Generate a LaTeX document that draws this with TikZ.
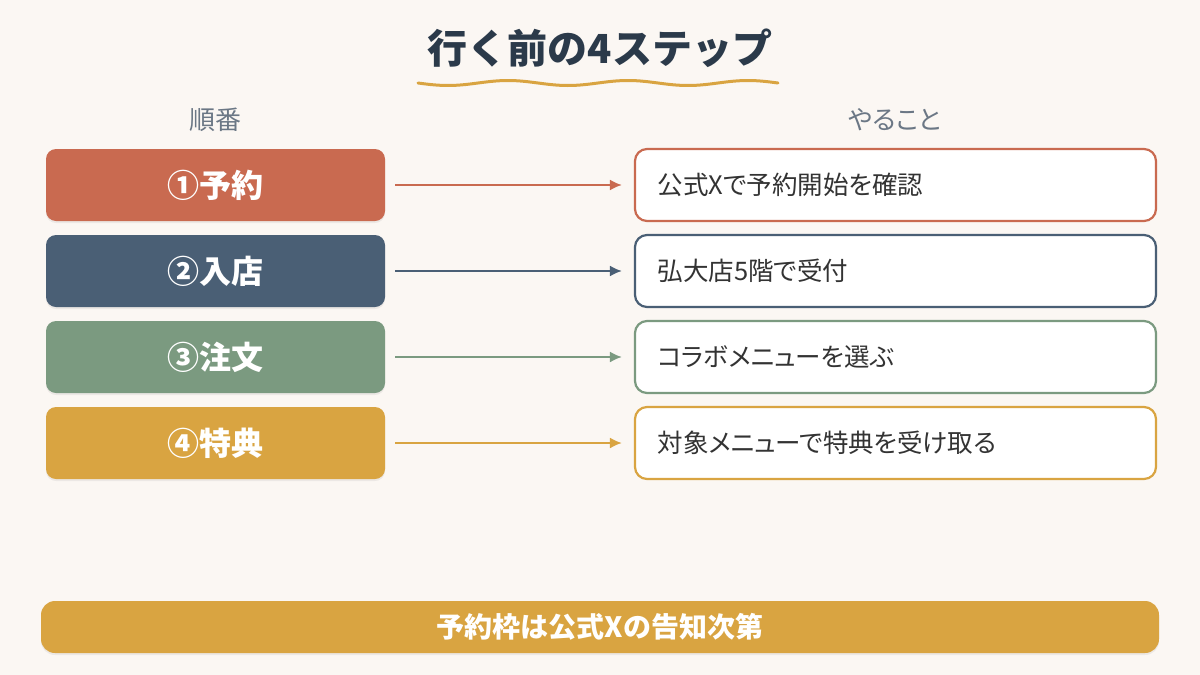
\documentclass[tikz,border=0pt]{standalone}
\usepackage{fontspec}
\setmainfont{Noto Sans CJK JP}
\newfontfamily\propfont[RawFeature=+palt]{Noto Sans CJK JP}
\usetikzlibrary{shadows,arrows.meta}
\definecolor{bg}{HTML}{FBF7F3}
\definecolor{navy}{HTML}{2B3A4A}
\definecolor{graytxt}{HTML}{6B7785}
\definecolor{cA}{HTML}{C96A50}
\definecolor{cB}{HTML}{4A5F75}
\definecolor{cC}{HTML}{7B9A80}
\definecolor{cD}{HTML}{D9A441}
\definecolor{bodytxt}{HTML}{333333}
\begin{document}
\begin{tikzpicture}[x=1pt,y=-1pt,
  stepbox/.style={rounded corners=10pt, minimum width=339pt, minimum height=72pt, inner sep=0pt,
    text=white, font=\fontsize{32}{36}\selectfont\bfseries,
    drop shadow={shadow xshift=0pt, shadow yshift=-2pt, opacity=0.12}},
  taskbox/.style={rounded corners=12pt, minimum width=521pt, minimum height=72pt, inner sep=0pt,
    fill=white, line width=2.2pt},
  tasktext/.style={anchor=west, text=bodytxt, font=\propfont\fontsize{25.5}{30}\selectfont},
  conn/.style={line width=2pt, -{Latex[length=12pt,width=11pt]}},
  header/.style={text=graytxt, font=\propfont\fontsize{26}{30}\selectfont}]
\useasboundingbox (0,0) rectangle (1200,675);
\fill[bg] (0,0) rectangle (1200,675);
% title
\node[text=navy, font=\fontsize{40}{46}\selectfont\bfseries] (title) at (600,48) {行く前の4ステップ};
\draw[cD, line width=3pt, line cap=round] plot[domain=418:778, samples=90, smooth] (\x, {83+2.5*sin((\x-418)*3)});
% headers
\node[header] (h1) at (215,120) {順番};
\node[header] (h2) at (895,120) {やること};
% left boxes
\node[stepbox, fill=cA] (s1) at (215.5,185) {①予約};
\node[stepbox, fill=cB] (s2) at (215.5,271) {②入店};
\node[stepbox, fill=cC] (s3) at (215.5,357) {③注文};
\node[stepbox, fill=cD] (s4) at (215.5,443) {④特典};
% right boxes
\node[taskbox, draw=cA] (t1) at (895.5,185) {};
\node[taskbox, draw=cB] (t2) at (895.5,271) {};
\node[taskbox, draw=cC] (t3) at (895.5,357) {};
\node[taskbox, draw=cD] (t4) at (895.5,443) {};
\node[tasktext] (l1) at (654,185) {公式Xで予約開始を確認};
\node[tasktext] (l2) at (654,271) {弘大店5階で受付};
\node[tasktext] (l3) at (654,357) {コラボメニューを選ぶ};
\node[tasktext] (l4) at (654,443) {対象メニューで特典を受け取る};
% connectors
\draw[conn, cA] ([xshift=10pt]s1.east) -- ([xshift=-12pt]t1.west);
\draw[conn, cB] ([xshift=10pt]s2.east) -- ([xshift=-12pt]t2.west);
\draw[conn, cC] ([xshift=10pt]s3.east) -- ([xshift=-12pt]t3.west);
\draw[conn, cD] ([xshift=10pt]s4.east) -- ([xshift=-12pt]t4.west);
% bottom bar
\node[fill=cD, rounded corners=14pt, minimum width=1118pt, minimum height=52pt, inner sep=0pt,
  text=white, font=\fontsize{28}{32}\selectfont\bfseries,
  drop shadow={shadow xshift=0pt, shadow yshift=-2pt, opacity=0.12}] (note) at (600,627) {予約枠は公式Xの告知次第};
\end{tikzpicture}
\end{document}
